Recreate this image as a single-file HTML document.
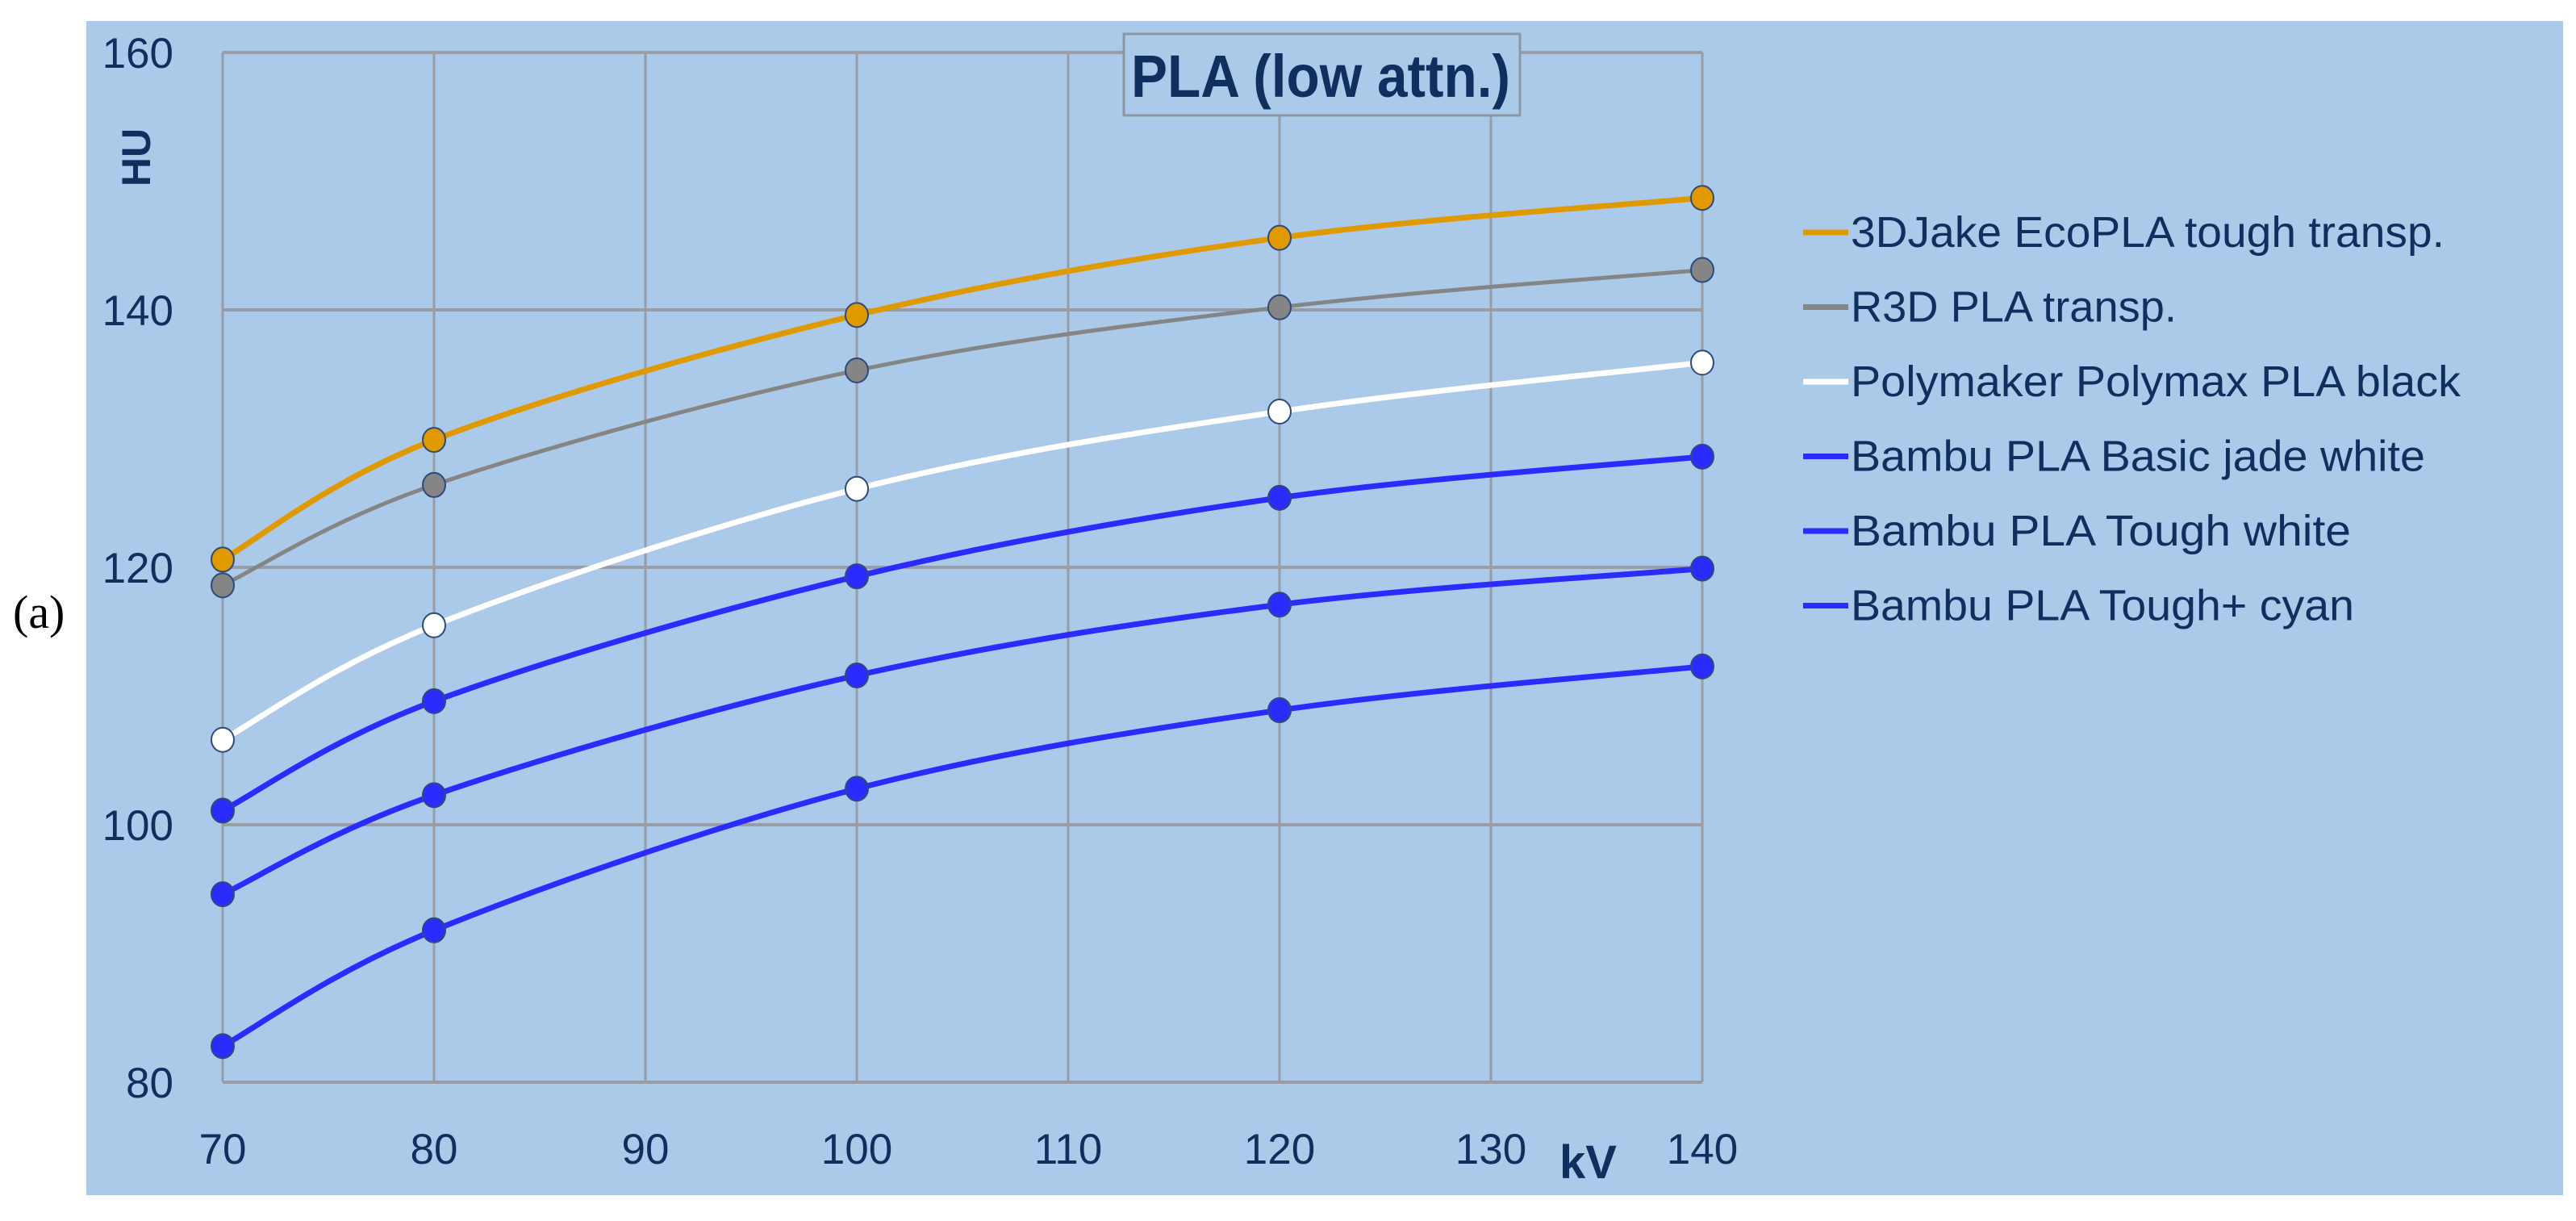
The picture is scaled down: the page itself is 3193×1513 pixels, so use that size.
<!DOCTYPE html>
<html><head><meta charset="utf-8"><style>
html,body{margin:0;padding:0;background:#fff;}
svg{display:block;}
text{font-family:"Liberation Sans",sans-serif;fill:#0f2f5f;}
</style></head><body>
<svg id="chart" width="3193" height="1513" viewBox="0 0 3193 1513" xmlns="http://www.w3.org/2000/svg">
<rect x="107" y="26" width="3070" height="1455" fill="#abcae9"/>
<text x="16" y="778" style="font-family:'Liberation Serif',serif;font-size:58px;fill:#000">(a)</text>
<g id="grid"></g>
<g id="ticks"></g>
<text transform="translate(186,195) rotate(-90)" text-anchor="middle" style="font-size:50px;font-weight:bold">HU</text>
<text x="1933" y="1460" style="font-size:58px;font-weight:bold">kV</text>
<g id="series"></g>
<rect x="1393" y="42" width="491" height="101" fill="#abcae9" stroke="#8d97a3" stroke-width="3"/>
<text x="1402" y="120" textLength="470" lengthAdjust="spacingAndGlyphs" style="font-size:74px;font-weight:bold">PLA (low attn.)</text>
<g id="legend"></g>
</svg>
<script>
const xValues = [70, 80, 100, 120, 140];
const xTicks = [70, 80, 90, 100, 110, 120, 130, 140];
const yTicks = [80, 100, 120, 140, 160];
const seriesNames = ["3DJake EcoPLA tough transp.", "R3D PLA transp.", "Polymaker Polymax PLA black", "Bambu PLA Basic jade white", "Bambu PLA Tough white", "Bambu PLA Tough+ cyan"];
const s1 = [120.6, 129.9, 139.6, 145.6, 148.7];
const s2 = [118.6, 126.4, 135.3, 140.2, 143.1];
const s3 = [106.6, 115.5, 126.1, 132.1, 135.9];
const s4 = [101.1, 109.6, 119.3, 125.4, 128.6];
const s5 = [94.6, 102.3, 111.6, 117.1, 119.9];
const s6 = [82.8, 91.8, 102.8, 108.9, 112.3];
const seriesValues = [s1, s2, s3, s4, s5, s6];
const colors = ["#e09a00", "#858585", "#ffffff", "#2b2bff", "#2b2bff", "#2b2bff"];
const legendWidths = [736, 404, 756, 712, 620, 624];

const NS = "http://www.w3.org/2000/svg";
const L = 276, R = 2110, T = 65, B = 1341;
const xMin = 70, xMax = 140, yMin = 80, yMax = 160;
const sx = v => L + (v - xMin) / (xMax - xMin) * (R - L);
const sy = v => B - (v - yMin) / (yMax - yMin) * (B - T);
function mk(tag, attrs, parent) {
  const e = document.createElementNS(NS, tag);
  for (const k in attrs) e.setAttribute(k, attrs[k]);
  parent.appendChild(e);
  return e;
}
const grid = document.getElementById('grid');
xTicks.forEach(t => {
  const l = mk('line', {x1: sx(t), x2: sx(t), y1: T, y2: B, stroke: '#979ca6', 'stroke-width': 3}, grid);
  
  
});
yTicks.forEach(t => {
  const l = mk('line', {x1: L, x2: R, y1: sy(t), y2: sy(t), stroke: '#979ca6', 'stroke-width': 4}, grid);
  
  
});
const ticks = document.getElementById('ticks');
xTicks.forEach(t => {
  const tx = mk('text', {x: sx(t), y: 1442, 'text-anchor': 'middle', style: 'font-size:53px'}, ticks);
  tx.textContent = t;
  
  
});
yTicks.forEach(t => {
  const tx = mk('text', {x: 215, y: sy(t) + 19, 'text-anchor': 'end', style: 'font-size:53px'}, ticks);
  tx.textContent = t;
  
  
});
function smoothPath(pts) {
  let d = `M${pts[0][0]},${pts[0][1]}`;
  for (let i = 0; i < pts.length - 1; i++) {
    const p0 = pts[i - 1] || pts[i], p1 = pts[i], p2 = pts[i + 1], p3 = pts[i + 2] || p2;
    const t = 1 / 6;
    const c1 = [p1[0] + (p2[0] - p0[0]) * t, p1[1] + (p2[1] - p0[1]) * t];
    const c2 = [p2[0] - (p3[0] - p1[0]) * t, p2[1] - (p3[1] - p1[1]) * t];
    d += ` C${c1[0]},${c1[1]} ${c2[0]},${c2[1]} ${p2[0]},${p2[1]}`;
  }
  return d;
}
const sg = document.getElementById('series');
seriesValues.forEach((vals, si) => {
  const g = mk('g', {}, sg);
  
  
  const pts = vals.map((v, i) => [sx(xValues[i]), sy(v)]);
  const p = mk('path', {d: smoothPath(pts), fill: 'none', stroke: colors[si], 'stroke-width': si === 1 ? 5 : 7}, g);
  
  
  pts.forEach(pt => {
    const c = mk('ellipse', {cx: pt[0], cy: pt[1], rx: 14, ry: 15, fill: colors[si], stroke: '#2d4a7a', 'stroke-width': 2}, g);
    
    
  });
});
const lg = document.getElementById('legend');
seriesNames.forEach((n, i) => {
  const by = 306 + i * 92.5;
  const g = mk('g', {}, lg);
  
  
  const ln = mk('line', {x1: 2235, x2: 2291, y1: by - 18, y2: by - 18, stroke: colors[i], 'stroke-width': 7}, g);
  
  
  const tx = mk('text', {x: 2294, y: by, textLength: legendWidths[i], lengthAdjust: 'spacingAndGlyphs', style: 'font-size:54px'}, g);
  tx.textContent = n;
  
  
});
</script>
</body></html>
